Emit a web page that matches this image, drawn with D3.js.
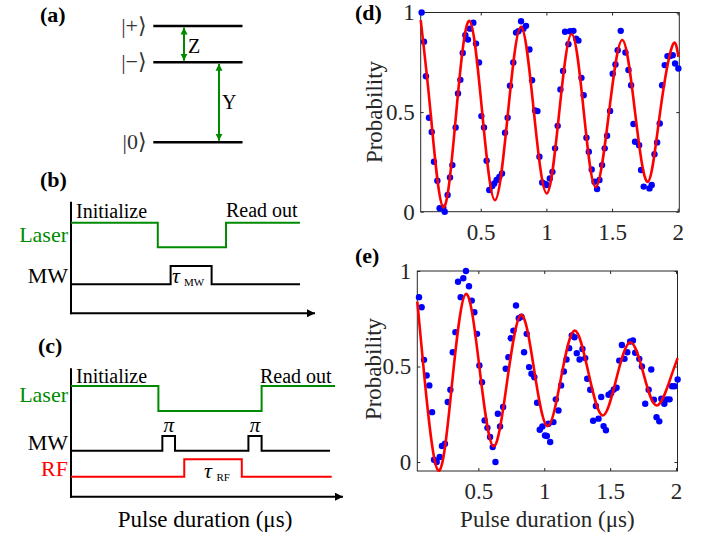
<!DOCTYPE html>
<html>
<head>
<meta charset="utf-8">
<script src="https://cdn.jsdelivr.net/npm/d3@7"></script>
<style>
body { margin: 0; background: #fff; }
svg text { font-family: "Liberation Serif", "Times New Roman", Times, serif; }
</style>
</head>
<body>
<div id="viz"></div>
<script>
// ---- data ----
// (a) energy levels (arbitrary units)
var levelNames = ["|+⟩", "|−⟩", "|0⟩"];
var levelEnergy = [1, 0.688, 0];

// (b),(c) pulse sequences: [time (a.u.), level 0/1]
var laserB = [[0, 1], [37.9, 0], [67.7, 1], [100, 1]];
var mwB    = [[0, 0], [43.5, 1], [61.4, 0], [100, 0]];
var laserC = [[0, 1], [33.1, 0], [72.2, 1], [100, 1]];
var mwC    = [[0, 0], [34.6, 1], [39.4, 0], [67.2, 1], [72.2, 0], [98.1, 0]];
var rfC    = [[0, 0], [42.9, 1], [64.7, 0], [98.75, 0]];

// (d) measured probability vs pulse duration (us)
var pointsD = [[0.050,1.000],[0.068,0.853],[0.083,0.680],[0.106,0.472],[0.127,0.400],[0.144,0.251],[0.170,0.155],[0.187,0.017],[0.215,0.020],[0.226,0.000],[0.248,0.084],[0.266,0.172],[0.284,0.234],[0.309,0.423],[0.327,0.594],[0.345,0.662],[0.363,0.797],[0.383,0.886],[0.403,0.864],[0.418,0.919],[0.444,0.949],[0.464,0.844],[0.487,0.749],[0.505,0.480],[0.525,0.423],[0.545,0.256],[0.565,0.109],[0.588,0.129],[0.603,0.142],[0.621,0.159],[0.642,0.175],[0.662,0.192],[0.685,0.396],[0.705,0.472],[0.723,0.632],[0.748,0.749],[0.769,0.899],[0.787,0.906],[0.807,0.956],[0.825,0.919],[0.845,0.933],[0.871,0.814],[0.891,0.660],[0.914,0.508],[0.932,0.505],[0.947,0.276],[0.968,0.147],[0.991,0.139],[1.003,0.134],[1.026,0.167],[1.046,0.200],[1.066,0.318],[1.086,0.431],[1.107,0.614],[1.127,0.706],[1.142,0.903],[1.168,0.841],[1.180,0.906],[1.206,0.908],[1.226,0.869],[1.244,0.859],[1.267,0.672],[1.284,0.585],[1.305,0.371],[1.323,0.301],[1.345,0.212],[1.366,0.150],[1.386,0.114],[1.404,0.159],[1.424,0.234],[1.444,0.318],[1.462,0.381],[1.485,0.506],[1.505,0.693],[1.526,0.739],[1.543,0.811],[1.566,0.908],[1.602,0.799],[1.625,0.711],[1.645,0.635],[1.663,0.440],[1.675,0.351],[1.706,0.334],[1.721,0.209],[1.741,0.126],[1.785,0.117],[1.802,0.134],[1.823,0.289],[1.843,0.348],[1.863,0.443],[1.881,0.635],[1.901,0.736],[1.922,0.781],[1.942,0.782],[1.962,0.786],[1.980,0.744],[2.005,0.719]];
// (d) fitted curve
var fitD = [[0.043,0.962],[0.118,0.50],[0.215,0.022],[0.314,0.50],[0.413,0.958],[0.511,0.50],[0.609,0.058],[0.708,0.50],[0.807,0.928],[0.905,0.50],[1.003,0.092],[1.098,0.50],[1.193,0.892],[1.285,0.50],[1.376,0.124],[1.477,0.50],[1.578,0.862],[1.675,0.50],[1.772,0.150],[1.866,0.50],[1.959,0.833],[2.005,0.777]];

// (e) measured probability vs pulse duration (us)
var pointsE = [[0.050,0.863],[0.070,0.810],[0.088,0.535],[0.108,0.453],[0.128,0.401],[0.149,0.261],[0.164,0.012],[0.184,0.000],[0.207,0.026],[0.224,0.084],[0.247,0.096],[0.268,0.314],[0.288,0.378],[0.306,0.575],[0.326,0.680],[0.346,0.944],[0.366,0.863],[0.386,0.962],[0.406,1.000],[0.429,0.920],[0.450,0.845],[0.470,0.784],[0.490,0.671],[0.508,0.505],[0.528,0.418],[0.548,0.218],[0.569,0.179],[0.589,0.131],[0.609,0.078],[0.630,0.000],[0.648,0.253],[0.665,0.186],[0.688,0.288],[0.708,0.488],[0.728,0.549],[0.746,0.648],[0.766,0.688],[0.786,0.819],[0.807,0.753],[0.827,0.761],[0.847,0.575],[0.867,0.671],[0.885,0.497],[0.903,0.462],[0.925,0.444],[0.946,0.310],[0.966,0.169],[0.986,0.186],[1.006,0.139],[1.020,0.136],[1.032,0.200],[1.045,0.105],[1.070,0.209],[1.088,0.328],[1.108,0.270],[1.128,0.401],[1.149,0.474],[1.169,0.537],[1.189,0.596],[1.209,0.662],[1.230,0.653],[1.247,0.570],[1.268,0.537],[1.290,0.592],[1.311,0.544],[1.326,0.436],[1.349,0.378],[1.371,0.216],[1.392,0.293],[1.412,0.227],[1.432,0.340],[1.450,0.188],[1.468,0.166],[1.488,0.352],[1.508,0.361],[1.528,0.380],[1.549,0.389],[1.569,0.531],[1.589,0.613],[1.609,0.540],[1.630,0.575],[1.652,0.631],[1.673,0.636],[1.690,0.572],[1.721,0.540],[1.741,0.500],[1.766,0.305],[1.792,0.378],[1.812,0.484],[1.832,0.326],[1.852,0.235],[1.873,0.213],[1.888,0.331],[1.911,0.305],[1.931,0.328],[1.951,0.328],[1.969,0.397],[1.989,0.397],[2.012,0.432]];
// (e) fitted curve
var fitE = [[0.037,0.84],[0.093,0.43],[0.197,-0.045],[0.302,0.42],[0.406,0.88],[0.511,0.48],[0.615,0.082],[0.720,0.43],[0.824,0.77],[0.924,0.48],[1.024,0.188],[1.127,0.44],[1.230,0.688],[1.336,0.466],[1.442,0.244],[1.547,0.436],[1.652,0.627],[1.754,0.46],[1.855,0.296],[1.960,0.443],[2.012,0.544]];

var xTicks = [0.5, 1, 1.5, 2];
var yTicks = [0, 0.5, 1];

// ---- setup ----
var w = 716, h = 537;
var GREEN = "#008a00", RED = "#ff0000", BLUE = "#0000ff", AX = "#262626";

var svg = d3.select("#viz").append("svg")
    .attr("width", w)
    .attr("height", h);

var defs = svg.append("defs");
function addMarker(id, color, len, wid) {
    defs.append("marker")
        .attr("id", id)
        .attr("viewBox", "0 0 10 10")
        .attr("refX", 10).attr("refY", 5)
        .attr("markerUnits", "userSpaceOnUse")
        .attr("markerWidth", len).attr("markerHeight", wid)
        .attr("orient", "auto-start-reverse")
        .append("path")
        .attr("d", "M0,0L10,5L0,10Z")
        .attr("fill", color);
}
addMarker("arrGreen", GREEN, 7, 8);
addMarker("arrBlack", "#000", 9, 8);

function label(g, x, y, txt, size, opts) {
    opts = opts || {};
    return g.append("text")
        .attr("x", x).attr("y", y)
        .attr("font-size", size)
        .attr("font-weight", opts.bold ? "bold" : null)
        .attr("font-style", opts.italic ? "italic" : null)
        .attr("text-anchor", opts.anchor || "start")
        .attr("fill", opts.color || "#000")
        .text(txt);
}

// ---- (a) energy levels ----
var gA = svg.append("g");
var yA = d3.scaleLinear().domain([0, 1]).range([142.3, 26]);
label(gA, 40, 22, "(a)", 22, {bold: true});
gA.selectAll("line.level")
    .data(levelEnergy)
    .enter().append("line")
    .attr("class", "level")
    .attr("x1", 153.3).attr("x2", 242.5)
    .attr("y1", function(d) { return yA(d); })
    .attr("y2", function(d) { return yA(d); })
    .attr("stroke", "#000").attr("stroke-width", 2.5);
gA.selectAll("text.lvl")
    .data(levelEnergy)
    .enter().append("text")
    .attr("class", "lvl")
    .attr("x", 147)
    .attr("y", function(d) { return yA(d) + 7; })
    .attr("text-anchor", "end")
    .attr("font-size", 22)
    .attr("fill", "#333")
    .text(function(d, i) { return levelNames[i]; });

function dblArrow(g, x, e1, e2) {
    g.append("line")
        .attr("x1", x).attr("x2", x)
        .attr("y1", yA(e1) + 1.5).attr("y2", yA(e2) - 1.5)
        .attr("stroke", GREEN).attr("stroke-width", 2)
        .attr("marker-start", "url(#arrGreen)")
        .attr("marker-end", "url(#arrGreen)");
}
dblArrow(gA, 184, levelEnergy[0], levelEnergy[1]);
dblArrow(gA, 219, levelEnergy[1], levelEnergy[2]);
label(gA, 188, 52.5, "Z", 20);
label(gA, 222, 108.5, "Y", 20);

// ---- pulse sequence helpers ----
function pulse(g, x, data, yLow, yHigh, color) {
    var y = d3.scaleLinear().domain([0, 1]).range([yLow, yHigh]);
    var line = d3.line()
        .x(function(d) { return x(d[0]); })
        .y(function(d) { return y(d[1]); })
        .curve(d3.curveStepAfter);
    g.append("path")
        .attr("d", line(data))
        .attr("fill", "none")
        .attr("stroke", color)
        .attr("stroke-width", 2);
}
function timeAxes(g, top, bottom, right) {
    g.append("line")
        .attr("x1", 71).attr("x2", 71)
        .attr("y1", top).attr("y2", bottom + 1)
        .attr("stroke", "#000").attr("stroke-width", 2);
    g.append("line")
        .attr("x1", 70).attr("x2", right)
        .attr("y1", bottom).attr("y2", bottom)
        .attr("stroke", "#000").attr("stroke-width", 2)
        .attr("marker-end", "url(#arrBlack)");
}

// ---- (b) ----
var gB = svg.append("g");
var xB = d3.scaleLinear().domain([0, 100]).range([71, 300]);
label(gB, 40, 187, "(b)", 22, {bold: true});
timeAxes(gB, 201.7, 313.3, 315);
pulse(gB, xB, laserB, 247.3, 222.7, GREEN);
pulse(gB, xB, mwB, 284.3, 266, "#000");
label(gB, 76, 218.3, "Initialize", 20);
label(gB, 226, 216.7, "Read out", 20);
label(gB, 68, 241.5, "Laser", 22, {anchor: "end", color: GREEN});
label(gB, 68, 283.3, "MW", 22, {anchor: "end"});
label(gB, 172, 283, "τ", 22, {italic: true});
label(gB, 184, 285.5, "MW", 11);

// ---- (c) ----
var gC = svg.append("g");
var xC = d3.scaleLinear().domain([0, 100]).range([71, 335]);
label(gC, 38, 353, "(c)", 22, {bold: true});
timeAxes(gC, 368.3, 496.7, 343);
pulse(gC, xC, laserC, 411, 386, GREEN);
pulse(gC, xC, mwC, 450.7, 436, "#000");
pulse(gC, xC, rfC, 476.7, 459.3, RED);
label(gC, 76, 383.3, "Initialize", 20);
label(gC, 260, 383, "Read out", 20);
label(gC, 68, 401.7, "Laser", 22, {anchor: "end", color: GREEN});
label(gC, 68, 450, "MW", 22, {anchor: "end"});
label(gC, 68, 475.7, "RF", 22, {anchor: "end", color: RED});
label(gC, xC((mwC[1][0] + mwC[2][0]) / 2), 431.7, "π", 21, {italic: true, anchor: "middle"});
label(gC, xC((mwC[3][0] + mwC[4][0]) / 2), 431.7, "π", 21, {italic: true, anchor: "middle"});
label(gC, 204, 478.3, "τ", 22, {italic: true});
label(gC, 216.5, 480.5, "RF", 11);
label(gC, 205, 526.7, "Pulse duration (μs)", 23, {anchor: "middle"});

// ---- (d),(e) data plots ----
function dataPlot(cfg) {
    var g = svg.append("g");
    var x = d3.scaleLinear().domain(cfg.xDom).range(cfg.xRange);
    var y = d3.scaleLinear().domain(cfg.yDom).range(cfg.yRange);
    var x0 = cfg.xRange[0], x1 = cfg.xRange[1], yb = cfg.yRange[0], yt = cfg.yRange[1];

    g.append("g").attr("transform", "translate(0," + yb + ")")
        .call(d3.axisBottom(x).tickValues(xTicks).tickFormat(d3.format("")).tickSizeInner(-3).tickSizeOuter(0).tickPadding(12));
    g.append("g").attr("transform", "translate(0," + yt + ")")
        .call(d3.axisTop(x).tickValues(xTicks).tickFormat("").tickSizeInner(-3).tickSizeOuter(0));
    g.append("g").attr("transform", "translate(" + x0 + ",0)")
        .call(d3.axisLeft(y).tickValues(yTicks).tickFormat(d3.format("")).tickSizeInner(-3).tickSizeOuter(0).tickPadding(6));
    g.append("g").attr("transform", "translate(" + x1 + ",0)")
        .call(d3.axisRight(y).tickValues(yTicks).tickFormat("").tickSizeInner(-3).tickSizeOuter(0));
    g.selectAll(".domain").remove();
    g.selectAll(".tick line").attr("stroke", AX).attr("stroke-width", 1);
    g.selectAll(".tick text")
        .attr("font-family", null)
        .attr("font-size", 23)
        .attr("fill", AX);

    g.append("rect")
        .attr("x", x0).attr("y", yt)
        .attr("width", x1 - x0).attr("height", yb - yt)
        .attr("fill", "none").attr("stroke", AX).attr("stroke-width", 1);

    g.selectAll("circle")
        .data(cfg.points)
        .enter().append("circle")
        .attr("cx", function(d) { return x(d[0]); })
        .attr("cy", function(d) { return y(d[1]); })
        .attr("r", 3.2)
        .attr("fill", BLUE);

    var fitLine = d3.line()
        .x(function(d) { return x(d[0]); })
        .y(function(d) { return y(d[1]); })
        .curve(d3.curveNatural);
    g.append("path")
        .attr("d", fitLine(cfg.fit))
        .attr("fill", "none")
        .attr("stroke", RED)
        .attr("stroke-width", 2.6);

    label(g, cfg.tag[0], cfg.tag[1], cfg.tag[2], 22, {bold: true});
    g.append("text")
        .attr("transform", "translate(" + cfg.ylab[0] + "," + cfg.ylab[1] + ") rotate(-90)")
        .attr("text-anchor", "middle")
        .attr("font-size", 23)
        .attr("fill", AX)
        .text("Probability");
    if (cfg.xlab) {
        label(g, (x0 + x1) / 2, cfg.xlab, "Pulse duration (μs)", 23, {anchor: "middle", color: AX});
    }
}

dataPlot({
    points: pointsD, fit: fitD,
    xDom: [0.043, 2.012], xRange: [420.7, 679.3],
    yDom: [0, 1], yRange: [211.7, 12.5],
    tag: [355, 20, "(d)"], ylab: [381.5, 112]
});
dataPlot({
    points: pointsE, fit: fitE,
    xDom: [0.037, 2.011], xRange: [417.3, 677.5],
    yDom: [-0.047, 1], yRange: [471, 271],
    tag: [355, 263, "(e)"], ylab: [380.5, 369], xlab: 527
});
</script>
</body>
</html>
